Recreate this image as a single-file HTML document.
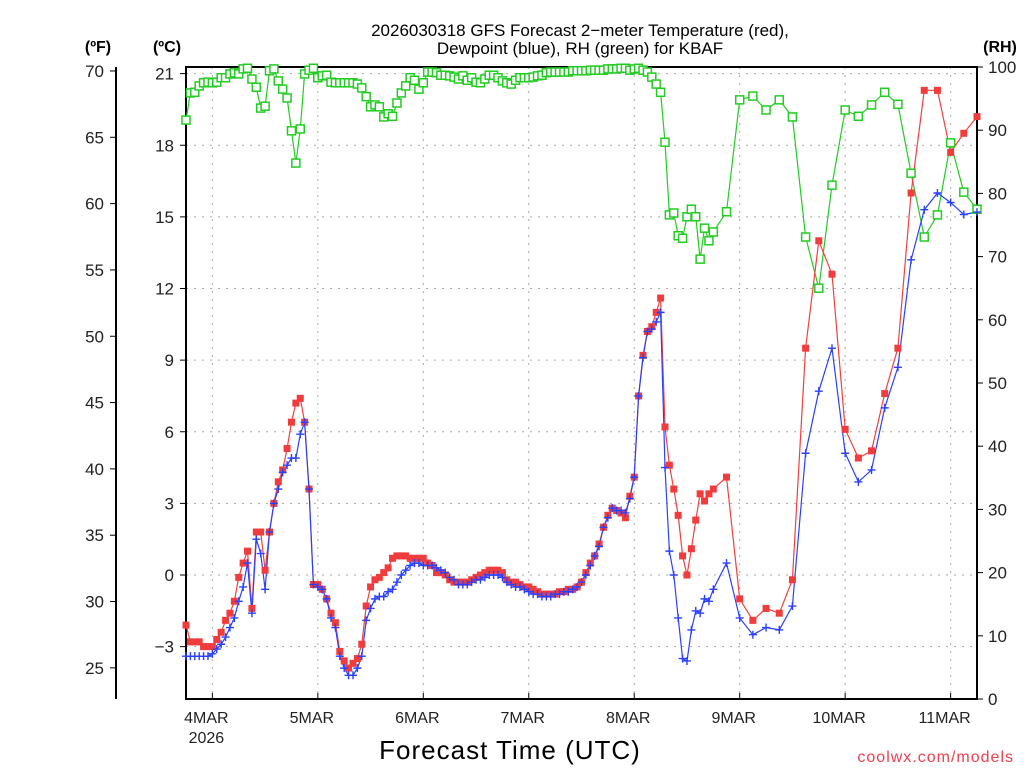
<!DOCTYPE html>
<html><head><meta charset="utf-8"><style>
html,body{margin:0;padding:0;background:#fff;}
svg{display:block;font-family:"Liberation Sans",sans-serif;}
</style></head><body>
<svg id="chart" width="1024" height="768" viewBox="0 0 1024 768">
<g id="grid"></g>
<g id="axes"></g>
<g id="series"></g>
<text x="580" y="36" text-anchor="middle" font-size="17">2026030318 GFS Forecast 2−meter Temperature (red),</text>
<text x="580" y="54" text-anchor="middle" font-size="17">Dewpoint (blue), RH (green) for KBAF</text>
<text x="98" y="52" text-anchor="middle" font-size="16" font-weight="bold">(ºF)</text>
<text x="167" y="52" text-anchor="middle" font-size="16" font-weight="bold">(ºC)</text>
<text x="1000" y="52" text-anchor="middle" font-size="16" font-weight="bold">(RH)</text>
<text x="510" y="759" text-anchor="middle" font-size="26" letter-spacing="1">Forecast Time (UTC)</text>
<text x="1014" y="762" text-anchor="end" font-size="16" fill="#f04050" letter-spacing="1">coolwx.com/models</text>
</svg>
<script>
const tempC = [-2.1,-2.8,-2.8,-2.8,-3.0,-3.0,-3.0,-2.7,-2.4,-1.9,-1.6,-1.1,-0.1,0.5,1.0,-1.4,1.8,1.8,0.2,1.8,3.0,3.9,4.4,5.3,6.4,7.2,7.4,6.4,3.6,-0.4,
-0.4,-0.6,-1.0,-1.6,-2.0,-3.2,-3.6,-3.9,-3.7,-3.5,-2.9,-1.3,-0.5,-0.2,-0.1,0.1,0.3,0.7,0.8,0.8,0.8,0.7,0.7,0.7,0.7,0.5,0.4,0.1,0.1,0.0,
-0.2,-0.3,-0.3,-0.3,-0.3,-0.2,-0.1,0.0,0.1,0.2,0.2,0.2,0.1,-0.2,-0.3,-0.3,-0.4,-0.5,-0.5,-0.6,-0.7,-0.8,-0.8,-0.8,-0.8,-0.7,-0.7,-0.6,-0.6,
-0.5,-0.3,0.1,0.5,0.8,1.3,2.0,2.5,2.8,2.7,2.6,2.4,3.3,4.1,7.5,9.2,10.2,10.4,11.0,11.6,6.2,4.6,3.6,2.5,0.8,0.0,1.1,2.3,3.4,3.1,3.4,3.6,
4.1,-1.0,-1.9,-1.4,-1.6,-0.2,9.5,14.0,12.6,6.1,4.9,5.2,7.6,9.5,16.0,20.3,20.3,17.7,18.5,19.2];
const dewC = [-3.4,-3.4,-3.4,-3.4,-3.4,-3.4,-3.3,-3.1,-2.9,-2.6,-2.2,-1.8,-1.1,-0.5,0.5,-1.6,1.5,0.9,-0.6,1.8,3.0,3.6,4.3,4.6,4.9,4.9,5.9,6.4,3.6,-0.4,
-0.5,-0.6,-1.0,-1.8,-2.2,-3.4,-3.9,-4.2,-4.2,-3.9,-3.4,-1.9,-1.4,-1.0,-0.9,-0.9,-0.7,-0.6,-0.3,0.0,0.2,0.4,0.5,0.5,0.4,0.4,0.4,0.3,0.2,0.1,
-0.1,-0.2,-0.4,-0.4,-0.4,-0.3,-0.2,-0.2,-0.1,0.0,0.0,0.0,-0.1,-0.3,-0.4,-0.5,-0.5,-0.6,-0.7,-0.8,-0.8,-0.9,-0.9,-0.9,-0.8,-0.8,-0.7,-0.7,-0.6,
-0.5,-0.3,0.0,0.4,0.8,1.2,2.0,2.4,2.8,2.7,2.7,2.6,3.2,4.1,7.5,9.1,10.2,10.3,10.6,11.0,4.5,1.0,0.0,-1.8,-3.5,-3.6,-2.3,-1.5,-1.6,-1.0,-1.1,-0.6,
0.5,-1.8,-2.5,-2.2,-2.3,-1.3,5.1,7.7,9.5,5.1,3.9,4.4,7.0,8.7,13.2,15.3,16.0,15.6,15.1,15.2];
const rhPct = [91.6,95.9,96.0,97.0,97.5,97.6,97.5,97.6,98.3,98.3,98.9,99.1,98.9,99.7,99.8,98.1,96.8,93.5,93.8,99.4,99.7,97.8,96.5,95.1,89.9,84.8,90.2,98.9,99.5,99.8,
98.3,98.6,98.7,97.6,97.5,97.5,97.5,97.5,97.5,97.3,96.7,95.3,93.7,94.0,93.7,92.1,92.6,92.2,94.3,95.9,97.0,98.3,97.9,96.5,97.5,99.2,99.2,
99.1,98.7,98.7,98.6,98.4,98.1,98.6,97.9,98.3,97.6,97.5,98.1,98.7,98.7,98.3,97.8,97.5,97.3,97.9,98.3,98.3,98.3,98.4,98.6,98.7,99.1,
99.2,99.2,99.2,99.2,99.2,99.4,99.4,99.4,99.4,99.5,99.5,99.5,99.5,99.7,99.7,99.7,99.8,99.8,
99.5,99.7,99.8,99.5,99.2,98.4,97.3,96.0,88.1,76.6,76.9,73.3,72.9,76.3,77.5,76.3,69.6,74.5,72.5,73.9,
77.1,94.8,95.4,93.2,94.8,92.1,73.1,65.0,81.3,93.2,92.2,94.0,96.0,94.1,83.2,73.1,76.6,88.0,80.2,77.5];
const dayLabels = ["4MAR","5MAR","6MAR","7MAR","8MAR","9MAR","10MAR","11MAR"];
const celsiusTicks = [-3,0,3,6,9,12,15,18,21];
const fahrenheitTicks = [25,30,35,40,45,50,55,60,65,70];
const rhTicks = [0,10,20,30,40,50,60,70,80,90,100];

const NS="http://www.w3.org/2000/svg";
const L=186,R=977,T=67,B=699;
const forecastHours = tempC.map((v,i)=> i<=120 ? i : 120+3*(i-120));
const xH = h => L + (R-L)*h/180;
const yC = c => 575 - c*23.875;
const yF = f => yC((f-32)*5/9);
const yRH = r => B - (B-T)*r/100;
function el(tag,attrs,parent){const e=document.createElementNS(NS,tag);for(const k in attrs)e.setAttribute(k,attrs[k]);parent.appendChild(e);return e;}
const grid=document.getElementById('grid'),axes=document.getElementById('axes'),series=document.getElementById('series');

celsiusTicks.forEach(c=>{
  const l=el('line',{x1:L,x2:R,y1:yC(c),y2:yC(c),stroke:'#aaa','stroke-width':1,'stroke-dasharray':'2,6'},grid);
  
  
  const t=el('line',{x1:L-6,x2:L,y1:yC(c),y2:yC(c),stroke:'#000','stroke-width':1},axes);
  
  
  const tx=el('text',{x:L-12,y:yC(c)+6,'text-anchor':'end','font-size':17,fill:'#222'},axes);
  tx.textContent = c<0 ? '−'+Math.abs(c) : String(c);
  
  
});
fahrenheitTicks.forEach(f=>{
  const t=el('line',{x1:110,x2:116,y1:yF(f),y2:yF(f),stroke:'#000','stroke-width':1},axes);
  
  
  const tx=el('text',{x:104,y:yF(f)+6,'text-anchor':'end','font-size':17,fill:'#222'},axes);
  tx.textContent=String(f);
  
  
});
rhTicks.forEach(r=>{
  const t=el('line',{x1:R,x2:R+6,y1:yRH(r),y2:yRH(r),stroke:'#000','stroke-width':1},axes);
  
  
  const tx=el('text',{x:R+11,y:yRH(r)+6,'font-size':17,fill:'#222'},axes);
  tx.textContent=String(r);
  
  
});
dayLabels.forEach((d,i)=>{
  const x=xH(6+24*i);
  const g=el('line',{x1:x,x2:x,y1:T,y2:B,stroke:'#aaa','stroke-width':1,'stroke-dasharray':'2,6'},grid);
  
  
  const t=el('line',{x1:x,x2:x,y1:B-6,y2:B,stroke:'#000','stroke-width':1},axes);
  
  
  const tx=el('text',{x:x-6,y:723,'text-anchor':'middle','font-size':16,fill:'#222'},axes);
  tx.textContent=d;
  
  
});
const yr=el('text',{x:xH(6)-6,y:743,'text-anchor':'middle','font-size':16,fill:'#222'},axes);
yr.textContent='2026';


const fax=el('line',{x1:116,x2:116,y1:67,y2:699,stroke:'#000','stroke-width':2},axes);


const frame=el('rect',{x:L,y:T,width:R-L,height:B-T,fill:'none',stroke:'#000','stroke-width':2},axes);



function line(vals,yf,color,name){
  const p=el('polyline',{points:vals.map((v,i)=>xH(forecastHours[i]).toFixed(1)+','+yf(v).toFixed(1)).join(' '),fill:'none',stroke:color,'stroke-width':1.2},series);
  
  
}
line(rhPct,yRH,'#22cc22','rh-line');
line(tempC,yC,'#f04040','temperature-line');
line(dewC,yC,'#2a40ff','dewpoint-line');
rhPct.forEach((v,i)=>{
  const m=el('rect',{x:xH(forecastHours[i])-4,y:yRH(v)-4,width:8,height:8,fill:'#fff',stroke:'#22cc22','stroke-width':1.5},series);
  
  
});
tempC.forEach((v,i)=>{
  const m=el('rect',{x:xH(forecastHours[i])-3.5,y:yC(v)-3.5,width:7,height:7,fill:'#f03c3c'},series);
  
  
});
dewC.forEach((v,i)=>{
  const x=xH(forecastHours[i]),y=yC(v);
  const m=el('path',{d:`M${x-4},${y}H${x+4}M${x},${y-4}V${y+4}`,stroke:'#2a40ff','stroke-width':1.4,fill:'none'},series);
  
  
});
</script>
</body></html>
